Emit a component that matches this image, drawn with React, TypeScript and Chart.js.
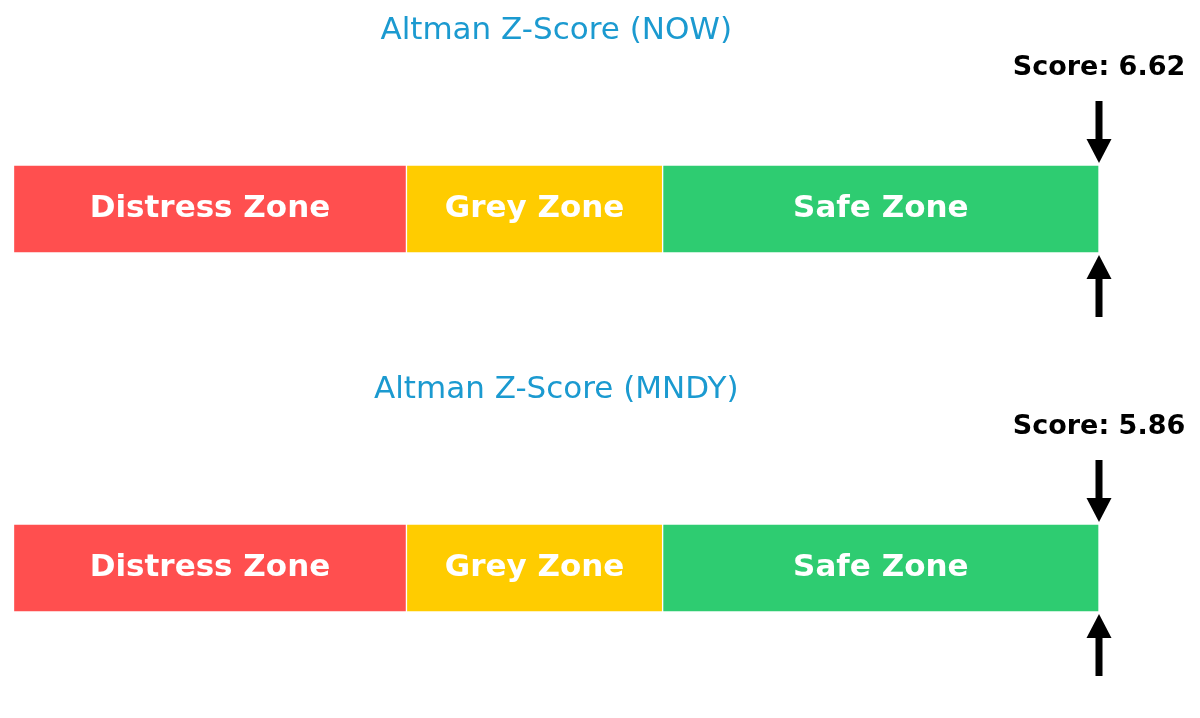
import React, { useEffect, useRef } from 'react';
import { Chart, registerables } from 'chart.js';

Chart.register(...registerables);

const companies = ['NOW', 'MNDY'];
const scores = [6.62, 5.86];
const zoneNames = ['Distress Zone', 'Grey Zone', 'Safe Zone'];
const zoneEdges = [0, 1.81, 2.99, 5.0];
const zoneColors = ['#ff4f4f', '#ffcc00', '#2ecc71'];

const FONT = '"DejaVu Sans", sans-serif';

// draws zone names, the score text and the two arrows at the score position
const markerPlugin = {
    id: 'zMarkers',
    afterDatasetsDraw(chart: any, _args: any, opts: any) {
        const ctx = chart.ctx;
        ctx.save();
        ctx.fillStyle = '#ffffff';
        ctx.font = `bold 31px ${FONT}`;
        ctx.textAlign = 'center';
        ctx.textBaseline = 'middle';
        chart.data.datasets.forEach((_ds: any, i: number) => {
            const el = chart.getDatasetMeta(i).data[0];
            const c = el.getCenterPoint();
            ctx.fillText(zoneNames[i], c.x, c.y);
        });

        const xScale = chart.scales.x;
        const x = xScale.getPixelForValue(Math.min(opts.score, xScale.max));
        const bar = chart.getDatasetMeta(0).data[0];
        const top = bar.y - bar.height / 2;
        const bottom = bar.y + bar.height / 2;

        ctx.fillStyle = '#000000';
        ctx.font = `bold 27px ${FONT}`;
        ctx.fillText(`Score: ${opts.score.toFixed(2)}`, x, top - 97);

        const shaft = 7;
        const headW = 25;
        const headH = 24;
        const len = 62;

        // down arrow above the bar
        let tip = top - 2;
        ctx.fillRect(x - shaft / 2, tip - len, shaft, len - headH + 1);
        ctx.beginPath();
        ctx.moveTo(x - headW / 2, tip - headH);
        ctx.lineTo(x + headW / 2, tip - headH);
        ctx.lineTo(x, tip);
        ctx.closePath();
        ctx.fill();

        // up arrow below the bar
        tip = bottom + 2;
        ctx.fillRect(x - shaft / 2, tip + headH - 1, shaft, len - headH + 1);
        ctx.beginPath();
        ctx.moveTo(x - headW / 2, tip + headH);
        ctx.lineTo(x + headW / 2, tip + headH);
        ctx.lineTo(x, tip);
        ctx.closePath();
        ctx.fill();
        ctx.restore();
    },
};

interface ZonePanelProps {
    company: string;
    score: number;
}

const ZonePanel: React.FC<ZonePanelProps> = ({ company, score }) => {
    const chartRef = useRef<HTMLCanvasElement>(null);
    const chartInstanceRef = useRef<Chart | null>(null);

    useEffect(() => {
        if (!chartRef.current) return;
        const ctx = chartRef.current.getContext('2d');
        if (!ctx) return;

        if (chartInstanceRef.current) {
            chartInstanceRef.current.destroy();
        }

        chartInstanceRef.current = new Chart(ctx, {
            type: 'bar',
            data: {
                labels: [company],
                datasets: zoneNames.map((name, i) => ({
                    label: name,
                    data: [[zoneEdges[i], zoneEdges[i + 1]]],
                    backgroundColor: zoneColors[i],
                    borderColor: '#ffffff',
                    borderWidth: 1,
                    borderSkipped: false,
                    grouped: false,
                    barThickness: 88,
                })) as any,
            },
            options: {
                indexAxis: 'y',
                animation: false,
                responsive: true,
                maintainAspectRatio: false,
                layout: {
                    padding: { left: 5.5, right: 93, top: 0, bottom: 45 },
                },
                plugins: {
                    legend: { display: false },
                    tooltip: { enabled: false },
                    title: {
                        display: true,
                        text: `Altman Z-Score (${company})`,
                        color: '#1b9ad0',
                        font: { family: FONT, size: 31, weight: 'normal' },
                        padding: { top: 4, bottom: 46.8 },
                    },
                    zMarkers: { score },
                } as any,
                scales: {
                    x: {
                        display: false,
                        min: zoneEdges[0],
                        max: zoneEdges[zoneEdges.length - 1],
                    },
                    y: {
                        display: false,
                    },
                },
            },
            plugins: [markerPlugin],
        });

        return () => {
            if (chartInstanceRef.current) {
                chartInstanceRef.current.destroy();
                chartInstanceRef.current = null;
            }
        };
    }, [company, score]);

    return (
        <div style={{ position: 'relative', height: 359 }}>
            <canvas ref={chartRef}></canvas>
        </div>
    );
};

const App: React.FC = () => {
    return (
        <div style={{ height: 702, overflow: 'hidden', background: '#ffffff' }}>
            {companies.map((c, i) => (
                <ZonePanel key={c} company={c} score={scores[i]} />
            ))}
        </div>
    );
};

export default App;
